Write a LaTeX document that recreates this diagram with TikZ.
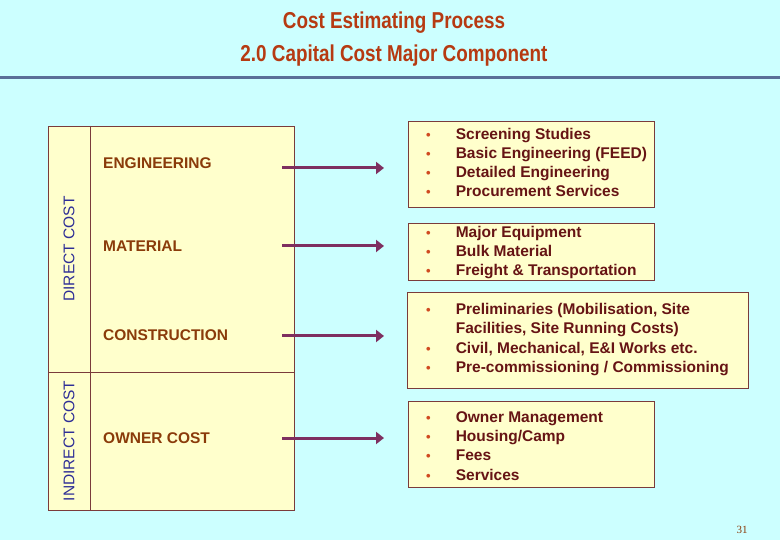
\documentclass[tikz,border=0pt]{standalone}
\usepackage{fontspec}
\setmainfont{Liberation Sans}
\newfontfamily\titlefont[FakeStretch=0.82]{Liberation Sans}
\newfontfamily\pagefont{Liberation Serif}
\usetikzlibrary{arrows.meta}

\definecolor{slidebg}{HTML}{CCFFFF}
\definecolor{boxfill}{HTML}{FFFFCC}
\definecolor{boxline}{HTML}{7A3B3B}
\definecolor{titlered}{HTML}{B63A12}
\definecolor{rulecol}{HTML}{5B6F98}
\definecolor{labelcol}{HTML}{8A3B0A}
\definecolor{sidecol}{HTML}{2E2E96}
\definecolor{arrowcol}{HTML}{7E2F60}
\definecolor{dotcol}{HTML}{D04A20}
\definecolor{itemcol}{HTML}{661414}

% bullet line and continuation line
\newcommand{\itm}[1]{\makebox[29.6pt][l]{\textcolor{dotcol}{\fontsize{13}{13}\selectfont\textbullet}}#1}
\newcommand{\cnt}[1]{\hspace*{29.6pt}#1}

\tikzset{
  costbox/.style={draw=boxline, fill=boxfill, line width=0.8pt},
  listbox/.style={draw=boxline, fill=boxfill, line width=0.8pt, anchor=north west, inner sep=0pt},
  heading/.style={anchor=base, inner sep=0pt, font=\titlefont\bfseries\fontsize{23}{23}\selectfont, text=titlered},
  costlabel/.style={anchor=base west, inner sep=0pt, font=\bfseries\fontsize{15.5}{19}\selectfont, text=labelcol},
  sidelabel/.style={rotate=90, inner sep=0pt, font=\fontsize{15.5}{19}\selectfont, text=sidecol},
  items/.style={anchor=west, inner sep=0pt, align=left, font=\bfseries\fontsize{15.5}{19.2}\selectfont, text=itemcol},
  flow/.style={draw=arrowcol, line width=3pt, -{Triangle[length=8pt,width=12pt]}}
}

\begin{document}
\begin{tikzpicture}[x=1pt,y=-1pt]
    \useasboundingbox (0,0) rectangle (780,540);
    \fill[slidebg] (0,0) rectangle (780,540);

    % title
    \node[heading] (titlea) at (394,28.5) {Cost Estimating Process};
    \node[heading] (titleb) at (394,61.5) {2.0 Capital Cost Major Component};
    \draw[rulecol, line width=3pt] (0,78) -- (780,78);

    % cost table
    \draw[costbox] (48,126) rectangle (294,510);
    \draw[boxline, line width=0.8pt] (90,126) -- (90,510);
    \draw[boxline, line width=0.8pt] (48,372) -- (294,372);
    \node[sidelabel] (direct) at (69,249) {DIRECT COST};
    \node[sidelabel] (indirect) at (69,441) {INDIRECT COST};

    \node[costlabel] (eng) at (103,169) {ENGINEERING};
    \node[costlabel] (mat) at (103,252) {MATERIAL};
    \node[costlabel] (con) at (103,341) {CONSTRUCTION};
    \node[costlabel] (own) at (103,443) {OWNER COST};

    % breakdown boxes
    \node[listbox, minimum width=246pt, minimum height=86pt] (engbox) at (408,121) {};
    \node[listbox, minimum width=246pt, minimum height=57pt] (matbox) at (408,223) {};
    \node[listbox, minimum width=341pt, minimum height=96pt] (conbox) at (407,292) {};
    \node[listbox, minimum width=246pt, minimum height=86pt] (ownbox) at (408,401) {};

    \node[items] (englist) at (426,162.5) {\itm{Screening Studies}\\ \itm{Basic Engineering (FEED)}\\
        \itm{Detailed Engineering}\\ \itm{Procurement Services}};
    \node[items] (matlist) at (426,252.5) {\itm{Major Equipment}\\ \itm{Bulk Material}\\
        \itm{Freight \& Transportation}};
    \node[items, font=\bfseries\fontsize{15.5}{19.6}\selectfont] (conlist) at (426,339.5) {\itm{Preliminaries (Mobilisation, Site}\\
        \cnt{Facilities, Site Running Costs)}\\ \itm{Civil, Mechanical, E\&I Works etc.}\\
        \itm{Pre-commissioning / Commissioning}};
    \node[items] (ownlist) at (426,446) {\itm{Owner Management}\\ \itm{Housing/Camp}\\
        \itm{Fees}\\ \itm{Services}};

    % arrows
    \coordinate (engfrom) at (282,168);
    \coordinate (engto) at (384,168);
    \coordinate (matfrom) at (282,246);
    \coordinate (matto) at (384,246);
    \coordinate (confrom) at (282,336);
    \coordinate (conto) at (384,336);
    \coordinate (ownfrom) at (282,438);
    \coordinate (ownto) at (384,438);
    \draw[flow] (engfrom) -- (engto);
    \draw[flow] (matfrom) -- (matto);
    \draw[flow] (confrom) -- (conto);
    \draw[flow] (ownfrom) -- (ownto);

    \node[text=labelcol, font=\pagefont\fontsize{11}{11}\selectfont] (pageno) at (742,530) {31};
\end{tikzpicture}
\end{document}
